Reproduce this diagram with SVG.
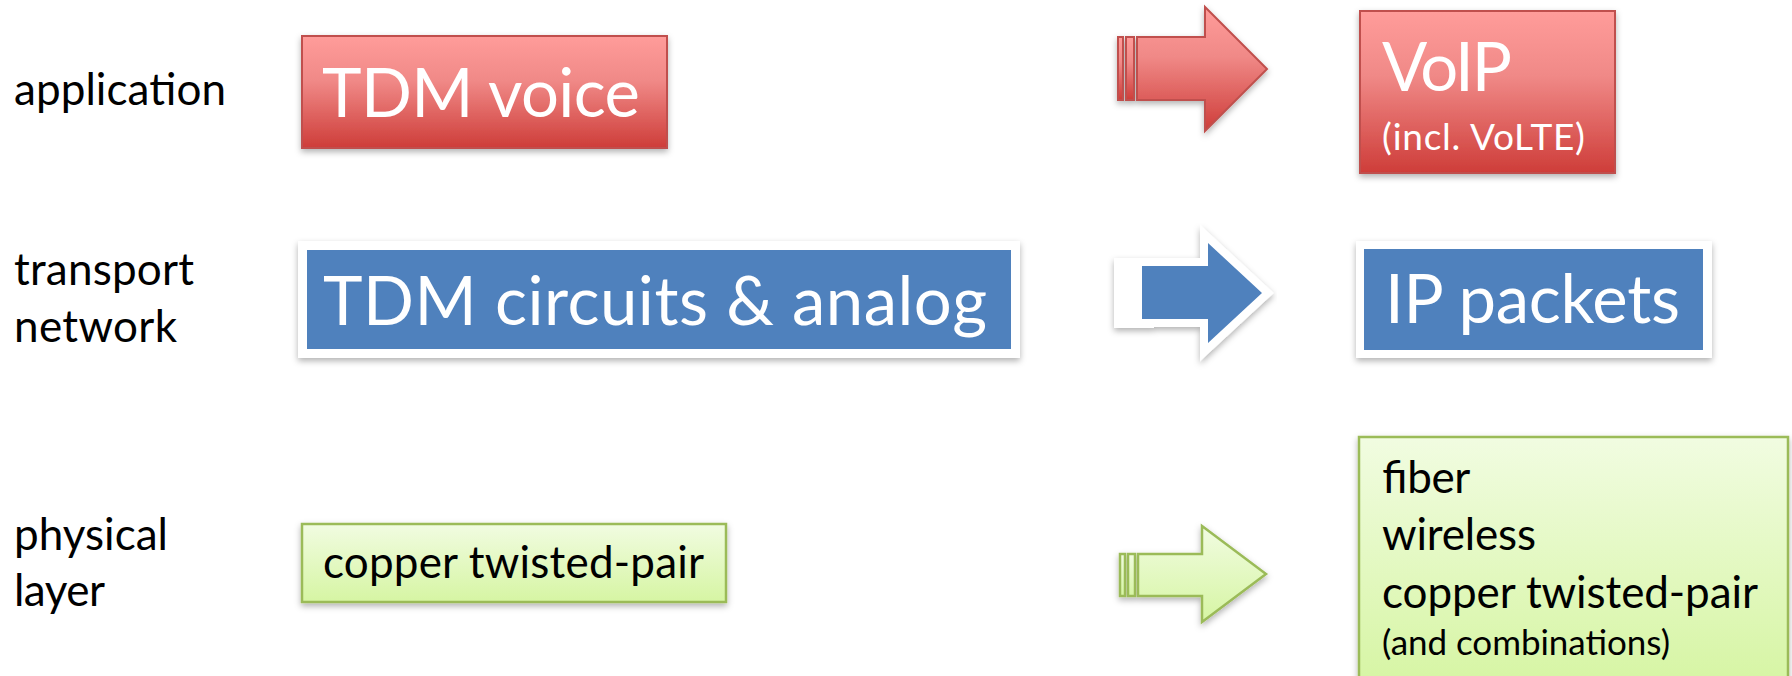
<svg xmlns="http://www.w3.org/2000/svg" width="1792" height="676" viewBox="0 0 1792 676">
<defs>
<linearGradient id="redGrad" x1="0" y1="0" x2="0" y2="1">
<stop offset="0" stop-color="#FF9C9A"/>
<stop offset="0.4" stop-color="#F08987"/>
<stop offset="1" stop-color="#CE3D39"/>
</linearGradient>
<linearGradient id="greenGrad" x1="0" y1="0" x2="0" y2="1">
<stop offset="0" stop-color="#F1FCE1"/>
<stop offset="1" stop-color="#D6F5A3"/>
</linearGradient>
<filter id="shadow" x="-10%" y="-20%" width="120%" height="150%">
<feDropShadow dx="0" dy="3" stdDeviation="3" flood-color="#000" flood-opacity="0.3"/>
</filter>
</defs>
<style>
.lbl{font-family:Lato,"Liberation Sans",sans-serif;font-size:44px;fill:#000}
.big{font-family:Lato,"Liberation Sans",sans-serif;font-size:67px;fill:#fff}
.small{font-family:Lato,"Liberation Sans",sans-serif;font-size:37px;fill:#fff}
.grn{font-family:Lato,"Liberation Sans",sans-serif;font-size:44px;fill:#000}
.grns{font-family:Lato,"Liberation Sans",sans-serif;font-size:35px;fill:#000}
.red{fill:url(#redGrad);stroke:#C0504D;stroke-width:2}
.green{fill:url(#greenGrad);stroke:#9BBB59;stroke-width:2.5}
.blue{fill:#4F81BD}
.white{fill:#fff}
</style>
<rect width="1792" height="676" fill="#fff"/>

<g id="labels">
<text class="lbl" x="14" y="105" textLength="212">application</text>
<text class="lbl" x="14" y="285" textLength="180">transport</text>
<text class="lbl" x="14" y="342" textLength="163">network</text>
<text class="lbl" x="14" y="550" textLength="154">physical</text>
<text class="lbl" x="14" y="606" textLength="91">layer</text>
</g>

<g id="tdm-voice">
<rect class="red" x="302" y="36" width="365" height="112" filter="url(#shadow)"/>
<text class="big" x="322" y="117" textLength="318">TDM voice</text>
</g>

<g id="voip">
<rect class="red" x="1360" y="11" width="255" height="162" filter="url(#shadow)"/>
<text class="big" x="1382" y="91" textLength="130">VoIP</text>
<text class="small" x="1382" y="150" textLength="203">(incl. VoLTE)</text>
</g>

<g id="tdm-circuits">
<rect class="white" x="298" y="241" width="722" height="117" filter="url(#shadow)"/>
<rect class="blue" x="307" y="250" width="704" height="99"/>
<text class="big" x="323" y="325" textLength="664">TDM circuits &amp; analog</text>
</g>

<g id="ip-packets">
<rect class="white" x="1356" y="241" width="356" height="117" filter="url(#shadow)"/>
<rect class="blue" x="1364" y="249" width="339" height="101"/>
<text class="big" x="1385" y="323" textLength="295">IP packets</text>
</g>

<g id="copper">
<rect class="green" x="302" y="524" width="424" height="78" filter="url(#shadow)"/>
<text class="grn" x="323" y="578" textLength="381">copper twisted-pair</text>
</g>

<g id="physical-new">
<rect class="green" x="1359" y="437" width="429" height="250" filter="url(#shadow)"/>
<text class="grn" x="1382" y="493" textLength="88">fiber</text>
<text class="grn" x="1382" y="550" textLength="154">wireless</text>
<text class="grn" x="1382" y="608" textLength="376">copper twisted-pair</text>
<text class="grns" x="1382" y="655" textLength="288">(and combinations)</text>
</g>

<g id="connectors">
<g id="arrow-red" filter="url(#shadow)">
<rect class="red" x="1118" y="37" width="5" height="63"/>
<rect class="red" x="1126" y="37" width="8" height="63"/>
<polygon class="red" points="1137,37 1205,37 1205,7 1267,69 1205,131 1205,100 1137,100"/>
</g>
<g id="arrow-blue" filter="url(#shadow)">
<rect class="white" x="1114" y="258" width="40" height="70"/>
<polygon class="blue" points="1142,266 1208,266 1208,243 1262,293 1208,343 1208,319 1142,319" stroke="#fff" stroke-width="16" stroke-linejoin="miter" paint-order="stroke"/>
</g>
<g id="arrow-green" filter="url(#shadow)">
<rect class="green" x="1120" y="554" width="5" height="42"/>
<rect class="green" x="1128" y="554" width="7" height="42"/>
<polygon class="green" points="1138,554 1202,554 1202,526 1266,574 1202,622 1202,596 1138,596"/>
</g>
</g>
</svg>
